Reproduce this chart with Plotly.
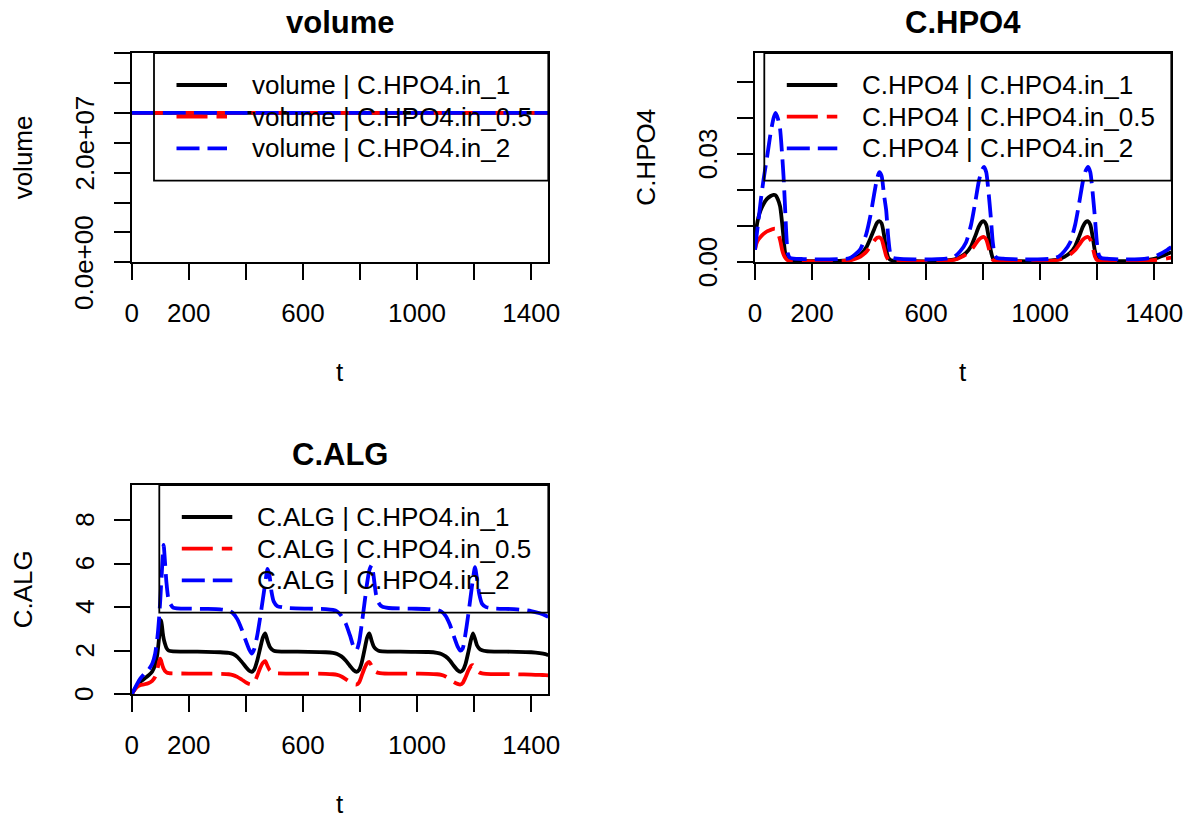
import plotly.graph_objects as go

W, H = 1189, 819

# ---------------- data ----------------
scenarios = ["C.HPO4.in_1", "C.HPO4.in_0.5", "C.HPO4.in_2"]

t_volume = [0, 365, 730, 1095, 1460]
volume_in_1 = [2.5e7, 2.5e7, 2.5e7, 2.5e7, 2.5e7]
volume_in_0_5 = [2.5e7, 2.5e7, 2.5e7, 2.5e7, 2.5e7]
volume_in_2 = [2.5e7, 2.5e7, 2.5e7, 2.5e7, 2.5e7]

t_hpo4 = [0, 5, 12, 20, 30, 42, 55, 65, 72, 80, 88, 95, 100, 105, 110, 115, 122, 135, 170, 230, 290,
          330, 350, 370, 390, 405, 418, 428, 436, 444, 452, 460, 467, 474, 482, 500, 560, 620, 670,
          700, 720, 740, 758, 772, 785, 795, 803, 811, 819, 827, 834, 841, 849, 870, 930, 990, 1040,
          1065, 1085, 1105, 1123, 1137, 1150, 1160, 1168, 1176, 1184, 1192, 1199, 1206, 1214, 1235, 1290, 1350,
          1390, 1410, 1430, 1445, 1460]
hpo4_in_1 = [0.005, 0.0095, 0.0125, 0.0145, 0.0162, 0.0176, 0.0184, 0.0187, 0.0186, 0.0175, 0.0155, 0.011, 0.0068, 0.003, 0.0015, 0.0009, 0.0007, 0.0005, 0.0004, 0.0003, 0.0004,
             0.0006, 0.0012, 0.0021, 0.0041, 0.0067, 0.0092, 0.011, 0.0114, 0.0108, 0.0078, 0.0035, 0.0014, 0.0007, 0.0005, 0.0004, 0.0003, 0.0003, 0.0005,
             0.0008, 0.0015, 0.0026, 0.0045, 0.0072, 0.0099, 0.0112, 0.0114, 0.0104, 0.0072, 0.0032, 0.0012, 0.0007, 0.0005, 0.0004, 0.0003, 0.0003, 0.0005,
             0.0008, 0.0015, 0.0026, 0.0045, 0.0072, 0.0099, 0.0112, 0.0114, 0.0104, 0.0072, 0.0032, 0.0012, 0.0007, 0.0005, 0.0004, 0.0003, 0.0004,
             0.0008, 0.0012, 0.0018, 0.0023, 0.0028]
hpo4_in_0_5 = [0.0035, 0.0052, 0.0063, 0.0071, 0.0079, 0.0086, 0.009, 0.0093, 0.0093, 0.0082, 0.0062, 0.0035, 0.0022, 0.0014, 0.0009, 0.0006, 0.0005, 0.0004, 0.0003, 0.0002, 0.0003,
               0.0005, 0.0009, 0.0016, 0.0029, 0.0045, 0.006, 0.0068, 0.0069, 0.0064, 0.0042, 0.0018, 0.0008, 0.0004, 0.0003, 0.0003, 0.0002, 0.0002, 0.0004,
               0.0007, 0.0013, 0.0022, 0.0034, 0.0049, 0.0063, 0.0069, 0.007, 0.0063, 0.0042, 0.0017, 0.0007, 0.0004, 0.0003, 0.0003, 0.0002, 0.0002, 0.0004,
               0.0007, 0.0013, 0.0022, 0.0034, 0.0049, 0.0063, 0.0069, 0.007, 0.0063, 0.0042, 0.0017, 0.0007, 0.0004, 0.0003, 0.0003, 0.0002, 0.0003,
               0.0005, 0.0007, 0.0009, 0.0011, 0.0013]
hpo4_in_2 = [0.0035, 0.007, 0.0115, 0.017, 0.023, 0.029, 0.036, 0.040, 0.0415, 0.040, 0.037, 0.030, 0.024, 0.016, 0.0075, 0.0025, 0.0013, 0.001, 0.0009, 0.0008, 0.0009,
             0.0011, 0.0021, 0.0037, 0.0078, 0.013, 0.019, 0.0232, 0.025, 0.024, 0.019, 0.0145, 0.0072, 0.0026, 0.0013, 0.001, 0.0008, 0.0008, 0.001,
             0.0016, 0.0031, 0.0055, 0.0105, 0.0165, 0.0225, 0.0255, 0.0265, 0.025, 0.0195, 0.0125, 0.0055, 0.002, 0.0012, 0.001, 0.0008, 0.0008, 0.001,
             0.0016, 0.0031, 0.0055, 0.0105, 0.0165, 0.0225, 0.0255, 0.0265, 0.025, 0.0195, 0.0125, 0.0055, 0.002, 0.0012, 0.001, 0.0008, 0.0009,
             0.0013, 0.0019, 0.0027, 0.0034, 0.0042]

t_alg = [0, 10, 20, 30, 45, 60, 72, 82, 90, 96, 100, 103, 106, 109, 112, 116, 122, 130, 145, 200, 260, 310,
         340, 355, 370, 385, 400, 412, 421, 430, 440, 450, 460, 468, 476, 483, 490, 498, 510, 540, 620, 680,
         705, 720, 735, 750, 765, 778, 788, 797, 806, 816, 825, 833, 841, 848, 856, 865, 878, 900, 980, 1040,
         1070, 1085, 1100, 1115, 1128, 1142, 1152, 1160, 1170, 1180, 1189, 1196, 1203, 1210, 1218, 1228, 1242, 1270, 1350,
         1400, 1430, 1450, 1460]
alg_in_1 = [0, 0.22, 0.42, 0.57, 0.72, 0.88, 1.05, 1.35, 1.85, 2.6, 3.15, 3.4, 3.15, 2.8, 2.55, 2.35, 2.12, 2.0, 1.97, 1.96, 1.95, 1.93,
            1.9, 1.85, 1.72, 1.5, 1.25, 1.08, 1.03, 1.15, 1.55, 2.1, 2.62, 2.79, 2.45, 2.2, 2.07, 2.0, 1.97, 1.96, 1.95, 1.93,
            1.9, 1.85, 1.74, 1.55, 1.3, 1.1, 1.03, 1.12, 1.45, 2.05, 2.6, 2.79, 2.45, 2.2, 2.07, 2.0, 1.97, 1.96, 1.95, 1.94,
            1.9, 1.85, 1.74, 1.55, 1.32, 1.1, 1.03, 1.1, 1.4, 1.95, 2.5, 2.8, 2.55, 2.25, 2.1, 2.02, 1.98, 1.96, 1.95,
            1.93, 1.89, 1.84, 1.79]
alg_in_0_5 = [0, 0.2, 0.35, 0.42, 0.46, 0.52, 0.62, 0.8, 1.15, 1.5, 1.64, 1.55, 1.4, 1.27, 1.17, 1.08, 1.01, 0.97, 0.96, 0.95, 0.95, 0.94,
              0.92, 0.88, 0.8, 0.68, 0.55, 0.47, 0.45, 0.55, 0.85, 1.2, 1.45, 1.52, 1.3, 1.12, 1.03, 0.98, 0.96, 0.95, 0.95, 0.94,
              0.92, 0.89, 0.82, 0.7, 0.57, 0.47, 0.45, 0.55, 0.85, 1.2, 1.42, 1.48, 1.3, 1.12, 1.03, 0.98, 0.96, 0.95, 0.95, 0.94,
              0.92, 0.89, 0.82, 0.7, 0.57, 0.48, 0.45, 0.52, 0.78, 1.1, 1.3, 1.34, 1.22, 1.08, 1.0, 0.96, 0.94, 0.93, 0.92,
              0.9, 0.89, 0.88, 0.87]
alg_in_2 = [0, 0.25, 0.5, 0.72, 0.95, 1.15, 1.4, 1.85, 2.6, 3.5, 4.3, 5.0, 5.7, 6.4, 6.86, 6.2, 5.1, 4.3, 3.98, 3.93, 3.92, 3.9,
            3.84, 3.72, 3.45, 3.0, 2.45, 2.05, 1.87, 2.1, 2.7, 3.5, 4.4, 5.1, 5.75, 5.45, 4.7, 4.25, 4.05, 3.97, 3.93, 3.91,
            3.87, 3.8, 3.6, 3.25, 2.7, 2.17, 2.02, 2.4, 3.2, 4.2, 5.1, 5.7, 5.93, 5.4, 4.6, 4.2, 4.02, 3.96, 3.93, 3.91,
            3.87, 3.8, 3.6, 3.2, 2.7, 2.2, 2.0, 2.1, 2.8, 3.7, 4.6, 5.3, 5.84, 5.3, 4.6, 4.15, 4.0, 3.94, 3.9,
            3.82, 3.72, 3.62, 3.55]

x_tickvals = [0, 200, 400, 600, 800, 1000, 1200, 1400]
x_ticktext = ["0", "200", "", "600", "", "1000", "", "1400"]
vol_tickvals = [0, 5e6, 1e7, 1.5e7, 2e7, 2.5e7, 3e7, 3.5e7]
vol_ticktext = ["0.0e+00", "", "", "", "2.0e+07", "", "", ""]
hpo4_tickvals = [0, 0.01, 0.02, 0.03, 0.04, 0.05]
hpo4_ticktext = ["0.00", "", "", "0.03", "", ""]
alg_tickvals = [0, 2, 4, 6, 8]
alg_ticktext = ["0", "2", "4", "6", "8"]

for a, b in [(t_hpo4, hpo4_in_1), (t_hpo4, hpo4_in_0_5), (t_hpo4, hpo4_in_2),
             (t_alg, alg_in_1), (t_alg, alg_in_0_5), (t_alg, alg_in_2)]:
    assert len(a) == len(b), (len(a), len(b))

# ---------------- style ----------------
colors = ["#000000", "#FF0000", "#0000FF"]
dashes = ["solid", "31px,9px", "23px,8px"]
LW = 3.8
FONT = "Liberation Sans, Arial, Helvetica, sans-serif"
FS = 26
AXW = 1.8


def px(x):
    return x / W


def py(y):
    return 1 - y / H


panels = [
    dict(var="volume", t=t_volume, ys=[volume_in_1, volume_in_0_5, volume_in_2],
         box=(131.7, 548.3, 53, 262.3), ymax=3.5e7,
         tv=vol_tickvals, tt=vol_ticktext, leg_left=154.0),
    dict(var="C.HPO4", t=t_hpo4, ys=[hpo4_in_1, hpo4_in_0_5, hpo4_in_2],
         box=(755.0, 1171.3, 53, 262.3), ymax=1.4 * max(hpo4_in_1 + hpo4_in_0_5 + hpo4_in_2),
         tv=hpo4_tickvals, tt=hpo4_ticktext, leg_left=764.3),
    dict(var="C.ALG", t=t_alg, ys=[alg_in_1, alg_in_0_5, alg_in_2],
         box=(131.7, 548.3, 485, 694.3), ymax=1.4 * max(alg_in_1 + alg_in_0_5 + alg_in_2),
         tv=alg_tickvals, tt=alg_ticktext, leg_left=159.3),
]

fig = go.Figure()
shapes = []
annotations = []
layout_axes = {}

for i, p in enumerate(panels):
    k = "" if i == 0 else str(i + 1)
    x0, x1, y0, y1 = p["box"]
    for j in range(3):
        fig.add_trace(go.Scatter(
            x=p["t"], y=p["ys"][j], mode="lines",
            line=dict(color=colors[j], width=LW, dash=dashes[j], shape="spline", smoothing=0.6),
            xaxis="x" + k, yaxis="y" + k, showlegend=False, hoverinfo="skip"))

    common = dict(showline=True, mirror=True, linecolor="black", linewidth=AXW,
                  ticks="outside", ticklen=16, tickwidth=AXW, tickcolor="black",
                  showgrid=False, zeroline=False, automargin=False,
                  tickfont=dict(family=FONT, size=FS, color="black"))
    layout_axes["xaxis" + k] = dict(domain=[px(x0), px(x1)], anchor="y" + k, range=[0, 1460],
                                    tickmode="array", tickvals=x_tickvals, ticktext=x_ticktext,
                                    ticklabelstandoff=11, **common)
    layout_axes["yaxis" + k] = dict(domain=[py(y1), py(y0)], anchor="x" + k, range=[0, p["ymax"]],
                                    tickmode="array", tickvals=p["tv"], ticktext=p["tt"],
                                    showticklabels=False, **common)

    # rotated y tick labels (R las=0 style), placed on the axis' own scale
    for v, s in zip(p["tv"], p["tt"]):
        if s:
            annotations.append(dict(text=s, x=px(x0 - 47), y=v, xref="paper", yref="y" + k,
                                    xanchor="center", yanchor="middle", showarrow=False,
                                    textangle=-90, borderpad=0,
                                    font=dict(family=FONT, size=FS, color="black")))

    cx = (x0 + x1) / 2
    # main title
    annotations.append(dict(text="<b>%s</b>" % p["var"], x=px(cx), y=py(y0 - 31), xref="paper", yref="paper",
                            xanchor="center", yanchor="middle", showarrow=False, borderpad=0,
                            font=dict(family=FONT, size=31, color="black")))
    # x label
    annotations.append(dict(text="t", x=px(cx), y=py(y1 + 110), xref="paper", yref="paper",
                            xanchor="center", yanchor="middle", showarrow=False, borderpad=0,
                            font=dict(family=FONT, size=FS, color="black")))
    # y label
    annotations.append(dict(text=p["var"], x=px(x0 - 109), y=py((y0 + y1) / 2), xref="paper", yref="paper",
                            xanchor="center", yanchor="middle", showarrow=False, textangle=-90, borderpad=0,
                            font=dict(family=FONT, size=FS, color="black")))

    # legend (topright, boxed)
    lx = p["leg_left"]
    shapes.append(dict(type="rect", xref="paper", yref="paper", x0=px(lx), x1=px(x1),
                       y0=py(y0 + 127.7), y1=py(y0), line=dict(color="black", width=AXW),
                       fillcolor="rgba(0,0,0,0)", layer="above"))
    for j in range(3):
        ry = y0 + 32 + 31.7 * j
        shapes.append(dict(type="line", xref="paper", yref="paper", x0=px(lx + 22.5), x1=px(lx + 73),
                           y0=py(ry), y1=py(ry), layer="above",
                           line=dict(color=colors[j], width=LW, dash=dashes[j])))
        annotations.append(dict(text="%s | %s" % (p["var"], scenarios[j]), x=px(lx + 96), y=py(ry),
                                xref="paper", yref="paper", xanchor="left", yanchor="middle",
                                showarrow=False, font=dict(family=FONT, size=FS, color="black")))

fig.update_layout(
    width=W, height=H, margin=dict(l=0, r=0, t=0, b=0),
    paper_bgcolor="white", plot_bgcolor="white", template="none",
    showlegend=False, shapes=shapes, annotations=annotations, **layout_axes)

fig.write_html("out.html")
